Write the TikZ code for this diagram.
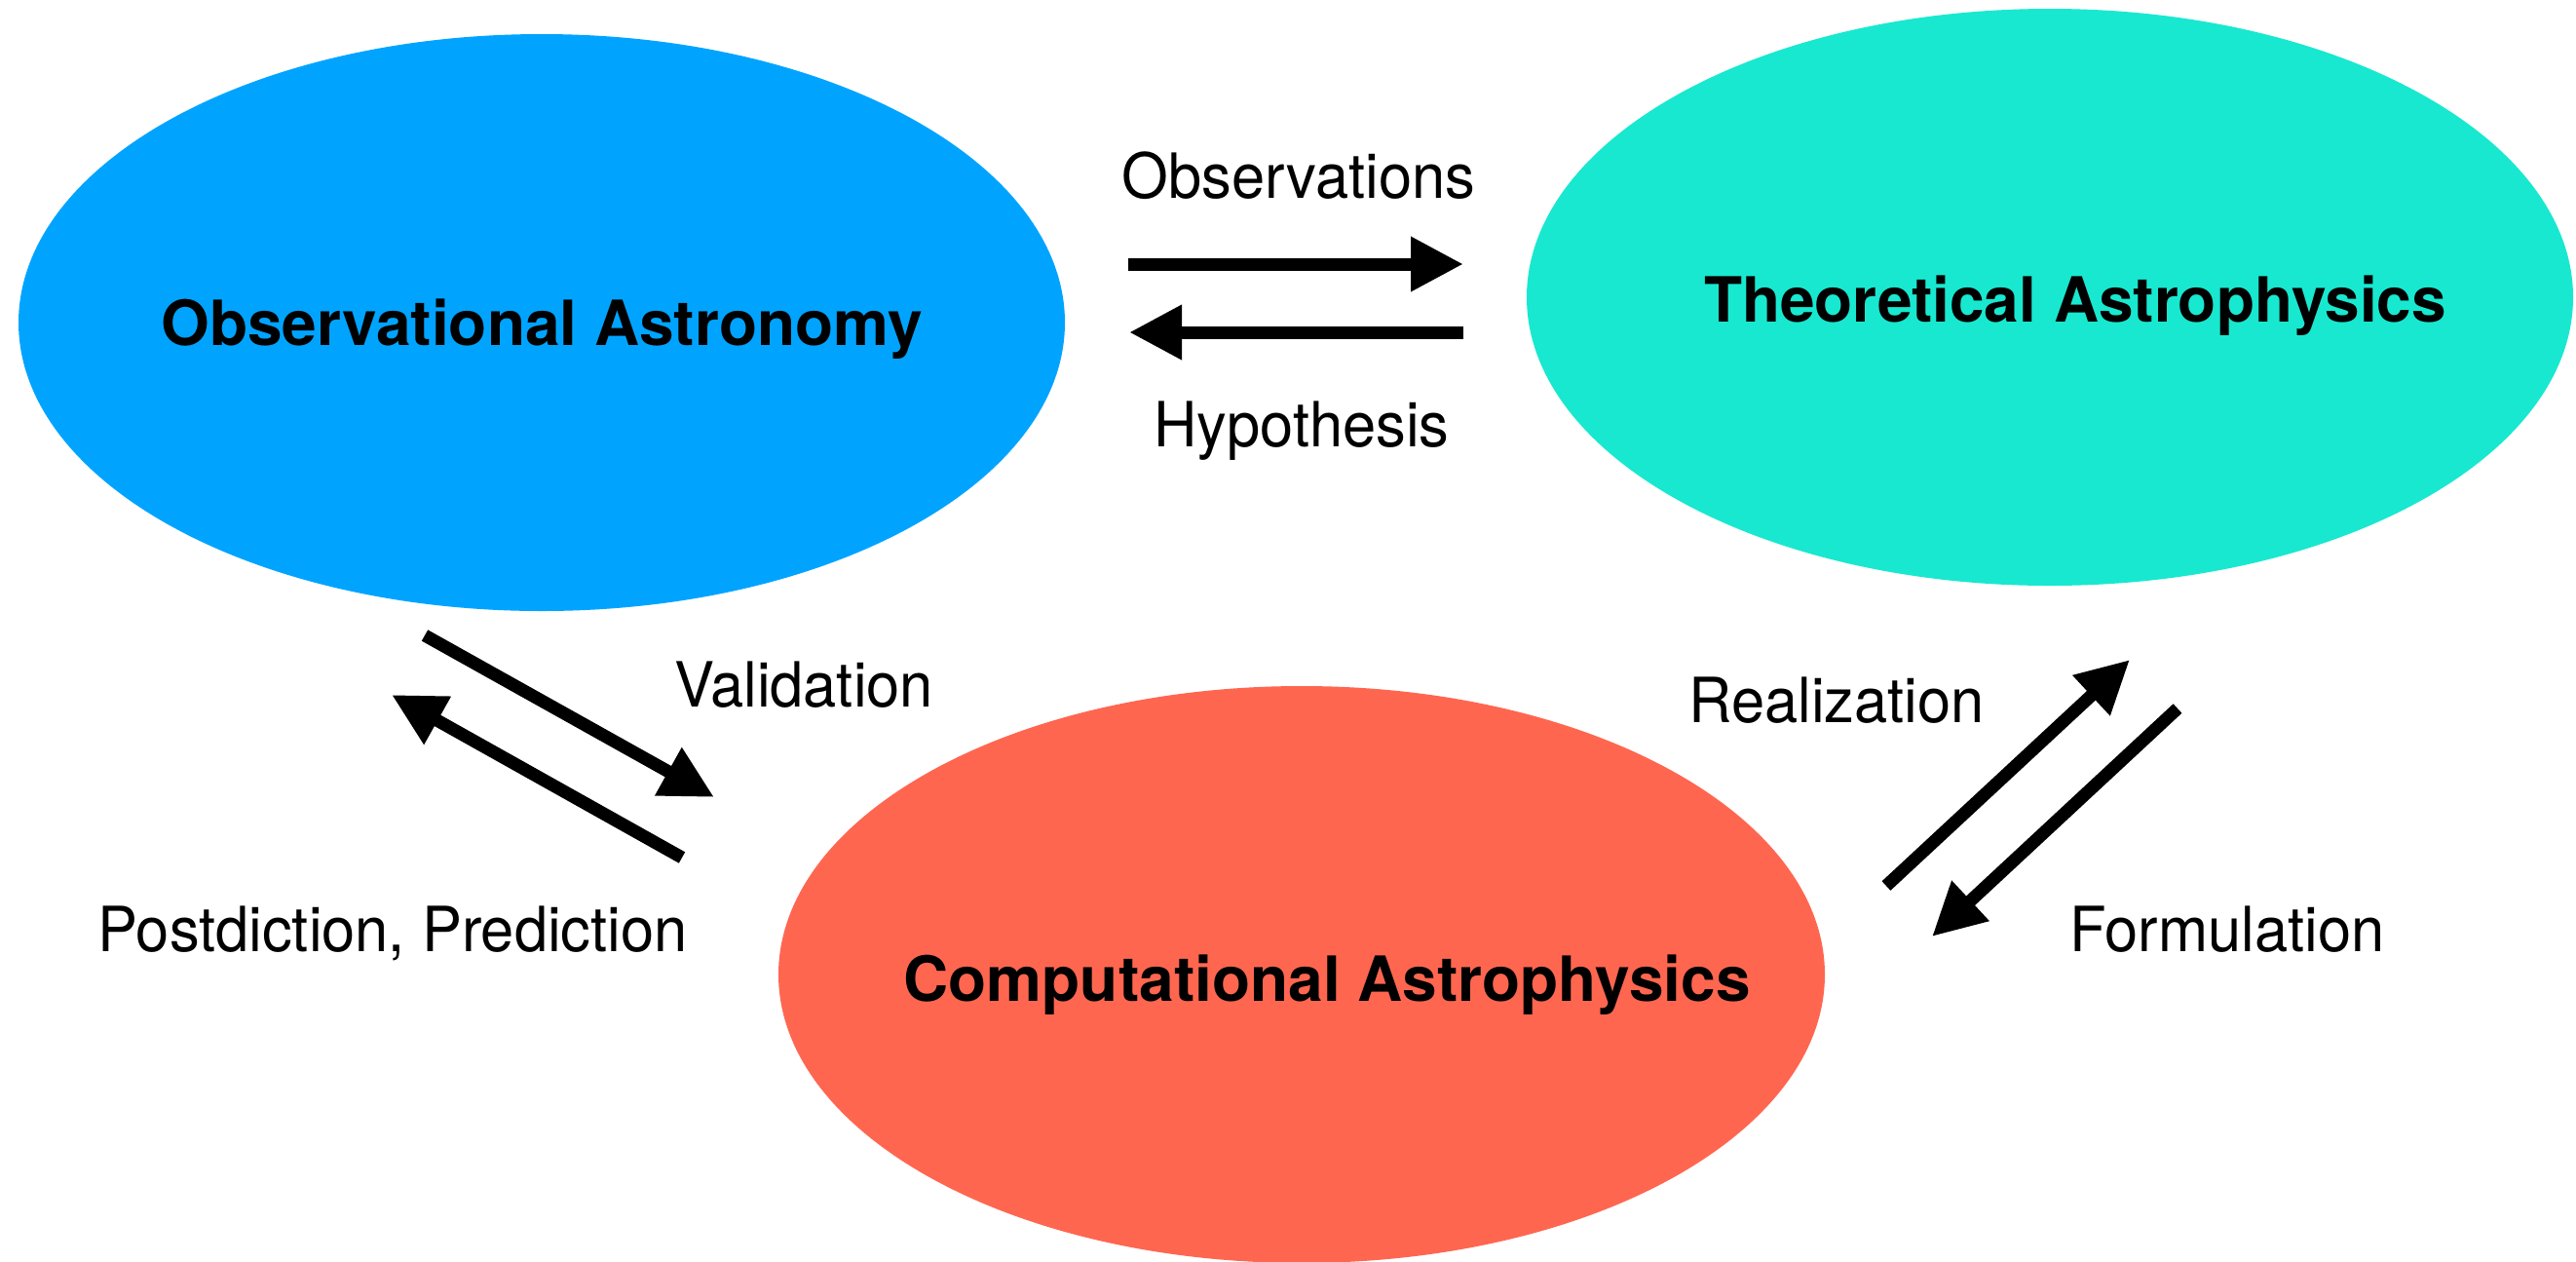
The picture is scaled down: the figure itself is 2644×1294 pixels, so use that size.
\documentclass[tikz,border=0pt]{standalone}
\usepackage{fontspec}
\setmainfont{TeX Gyre Heros}
\newfontfamily\lbfont[FakeStretch=0.96]{TeX Gyre Heros}
\usetikzlibrary{shapes.geometric,arrows.meta}
\definecolor{obsblue}{RGB}{0,164,255}
\definecolor{theoteal}{RGB}{24,232,208}
\definecolor{compred}{RGB}{255,102,80}
\tikzset{
  blob/.style={ellipse, minimum width=107.4mm, minimum height=59.2mm, inner sep=0pt, draw=none},
  title/.style={font=\bfseries\fontsize{18.2}{20}\selectfont, anchor=base, inner sep=0pt},
  lbl/.style={font=\lbfont\fontsize{18.2}{20}\selectfont, anchor=base, inner sep=0pt},
  flow/.style={line width=1.3mm, -{Triangle[length=5.4mm,width=5.3mm]}}
}
\begin{document}
\begin{tikzpicture}[x=0.1mm,y=-0.1mm]
\useasboundingbox[fill=white] (0,0) rectangle (2644,1294);
% ellipses
\node[blob, fill=obsblue] (obs) at (556,331) {};
\node[blob, fill=theoteal] (theo) at (2104,305) {};
\node[blob, fill=compred] (comp) at (1336,1000) {};
% titles
\node[title] (obsT) at (556,354) {Observational Astronomy};
\node[title] (theoT) at (2130,330) {Theoretical Astrophysics};
\node[title] (compT) at (1362,1027) {Computational Astrophysics};
% arrow end points
\coordinate (o1) at (1158,271);
\coordinate (o2) at (1502,271);
\coordinate (h1) at (1502,341);
\coordinate (h2) at (1159,341);
\coordinate (v1) at (436,652);
\coordinate (v2) at (733,818);
\coordinate (p1) at (700,880);
\coordinate (p2) at (402,713);
\coordinate (r1) at (1936,909);
\coordinate (r2) at (2186,677);
\coordinate (f1) at (2235,727);
\coordinate (f2) at (1983,961);
% arrows
\draw[flow] (o1) -- (o2);
\draw[flow] (h1) -- (h2);
\draw[flow] (v1) -- (v2);
\draw[flow] (p1) -- (p2);
\draw[flow] (r1) -- (r2);
\draw[flow] (f1) -- (f2);
% labels
\node[lbl] (lObs) at (1333,203) {Observations};
\node[lbl] (lHyp) at (1336,458) {Hypothesis};
\node[lbl] (lVal) at (825,725) {Validation};
\node[lbl] (lPost) at (403,976) {Postdiction, Prediction};
\node[lbl] (lReal) at (1885,741) {Realization};
\node[lbl] (lForm) at (2286,976) {Formulation};
\end{tikzpicture}
\end{document}
